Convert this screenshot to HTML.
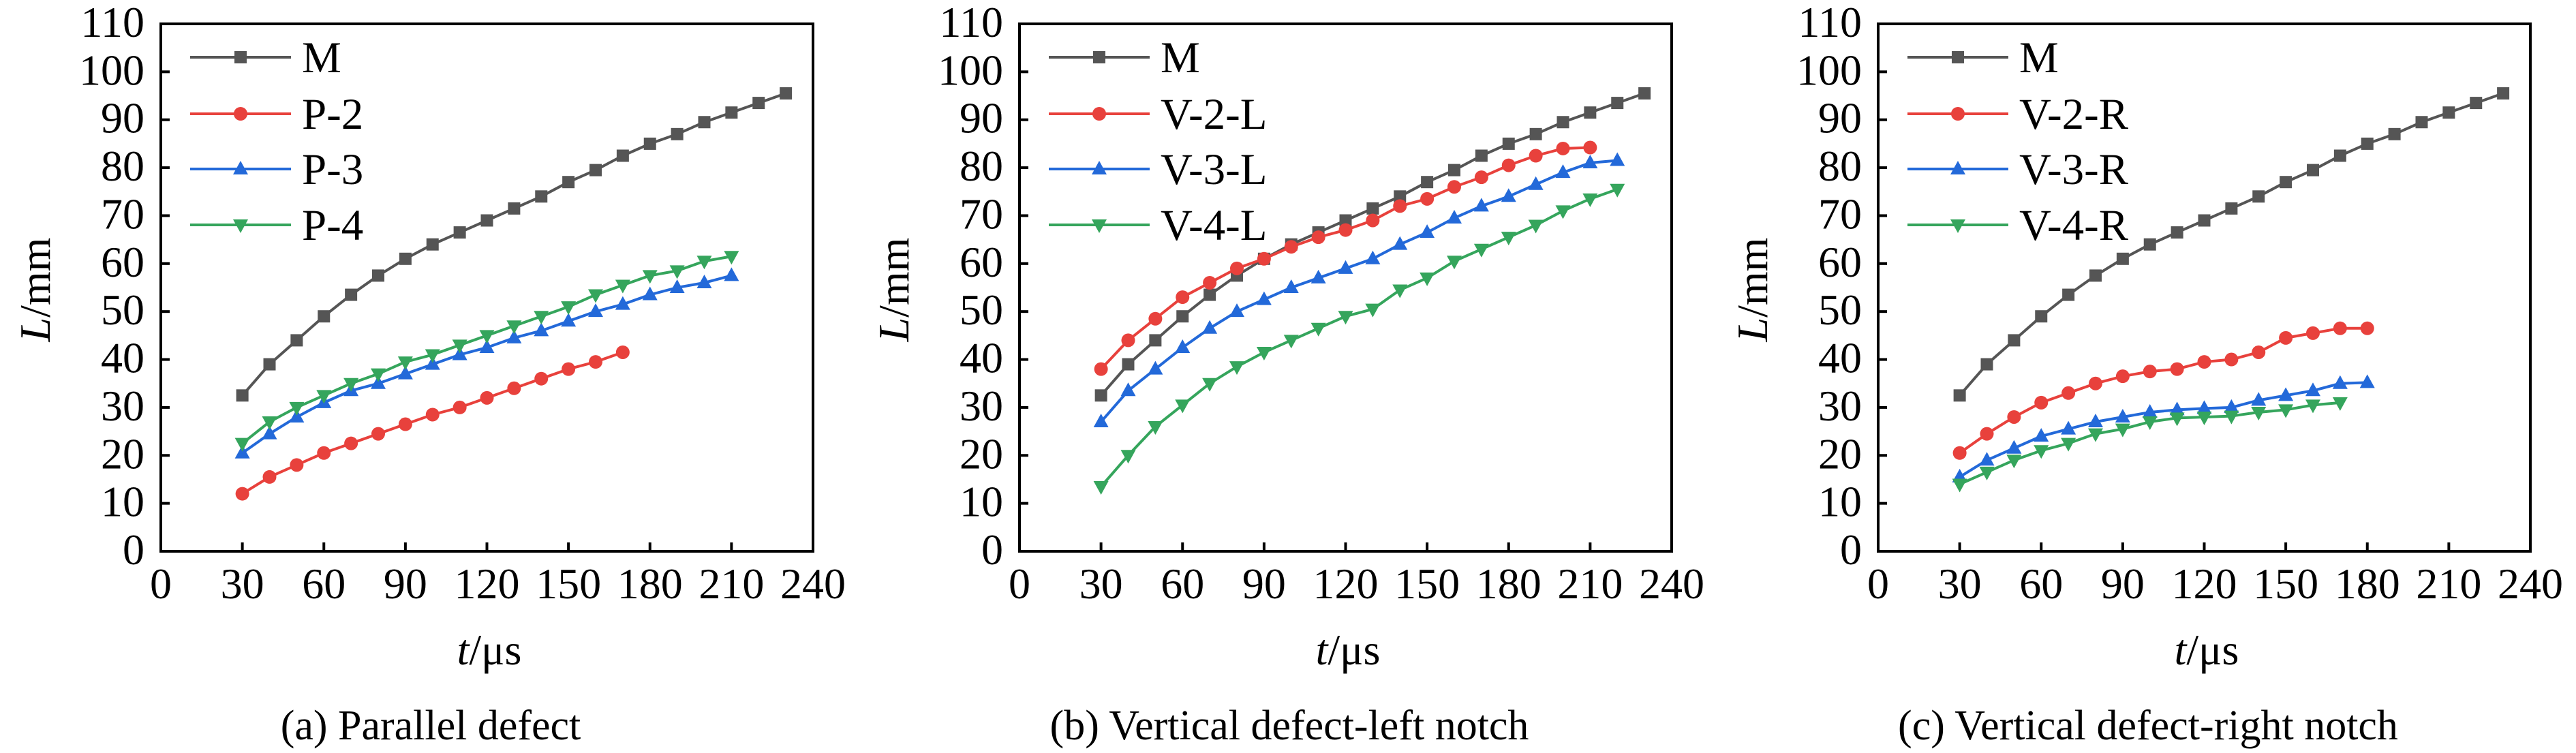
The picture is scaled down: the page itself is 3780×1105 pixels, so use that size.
<!DOCTYPE html>
<html><head><meta charset="utf-8"><style>
html,body{margin:0;padding:0;background:#fff;}
svg{display:block;font-family:"Liberation Serif",serif;}
</style></head><body>
<svg id="fig" width="3780" height="1105" viewBox="0 0 3780 1105" xmlns="http://www.w3.org/2000/svg"></svg>
<script>
// ---- data ----
const xTicks = [0,30,60,90,120,150,180,210,240];
const yTicks = [0,10,20,30,40,50,60,70,80,90,100,110];
const mValues = [32.5,39,44,49,53.5,57.5,61,64,66.5,69,71.5,74,77,79.5,82.5,85,87,89.5,91.5,93.5,95.5];
const p2Values = [12,15.5,18,20.5,22.5,24.5,26.5,28.5,30,32,34,36,38,39.5,41.5];
const p3Values = [20.5,24.5,28,31,33.5,35,37,39,41,42.5,44.5,46,48,50,51.5,53.5,55,56,57.5];
const p4Values = [22.5,27,30,32.5,35,37,39.5,41,43,45,47,49,51,53.5,55.5,57.5,58.5,60.5,61.5];
const v2lValues = [38,44,48.5,53,56,59,61,63.5,65.5,67,69,72,73.5,76,78,80.5,82.5,84,84.2];
const v3lValues = [27,33.5,38,42.5,46.5,50,52.5,55,57,59,61,64,66.5,69.5,72,74,76.5,79,81,81.5];
const v4lValues = [13.5,20,26,30.5,35,38.5,41.5,44,46.5,49,50.5,54.5,57,60.5,63,65.5,68,71,73.5,75.5];
const v2rValues = [20.5,24.5,28,31,33,35,36.5,37.5,38,39.5,40,41.5,44.5,45.5,46.5,46.5];
const v3rValues = [15.5,19,21.5,24,25.5,27,28,29,29.5,29.8,30,31.5,32.5,33.5,35,35.2];
const v4rValues = [14,16.5,19,21,22.5,24.5,25.5,27,27.8,28,28.2,29,29.5,30.5,31];
const startT = 30, stepT = 10;
const panelNames = ["a","b","c"];
const panelCaptions = ["(a) Parallel defect","(b) Vertical defect-left notch","(c) Vertical defect-right notch"];
const panelLabels = [["M","P-2","P-3","P-4"],["M","V-2-L","V-3-L","V-4-L"],["M","V-2-R","V-3-R","V-4-R"]];
const panelSeries = [[mValues,p2Values,p3Values,p4Values],[mValues,v2lValues,v3lValues,v4lValues],[mValues,v2rValues,v3rValues,v4rValues]];

const colors = ["#555555","#e8413c","#2369d9","#35a55c"];
const markers = ["square","circle","up","down"];
const NS = "http://www.w3.org/2000/svg";
const svg = document.getElementById("fig");
function mk(tag, attrs, parent){const e=document.createElementNS(NS,tag);for(const k in attrs)e.setAttribute(k,attrs[k]);(parent||svg).appendChild(e);return e;}
function marker(g,type,cx,cy,col){
  let e;
  if(type==="square"){e=mk("rect",{x:cx-9,y:cy-9,width:18,height:18,fill:col},g);}
  else if(type==="circle"){e=mk("circle",{cx:cx,cy:cy,r:10,fill:col},g);}
  else if(type==="up"){e=mk("polygon",{points:`${cx},${cy-12} ${cx+11},${cy+8} ${cx-11},${cy+8}`,fill:col},g);}
  else {e=mk("polygon",{points:`${cx},${cy+12} ${cx+11},${cy-8} ${cx-11},${cy-8}`,fill:col},g);}
  return e;
}
panelNames.forEach((pn,pi)=>{
  const off = pi*1260;
  const L=236+off, R=1193+off, T=35, B=809;
  const sx = v => L + (v-0)/(240-0)*(R-L);
  const sy = v => B - (v-0)/(110-0)*(B-T);
  const g = mk("g",{});
  
  
  // series
  panelSeries[pi].forEach((vals,si)=>{
    const sg = mk("g",{},g);
    
    
    const pts = vals.map((v,i)=>sx(startT+i*stepT)+","+sy(v)).join(" ");
    const pl = mk("polyline",{points:pts,fill:"none",stroke:colors[si],"stroke-width":4,"stroke-linejoin":"round"},sg);
    
    
    vals.forEach((v,i)=>{
      const m = marker(sg,markers[si],sx(startT+i*stepT),sy(v),colors[si]);
      
      
    });
  });
  // frame
  const fr = mk("rect",{x:L,y:T,width:R-L,height:B-T,fill:"none",stroke:"#000","stroke-width":4},g);
  
  
  // ticks
  xTicks.forEach(t=>{
    const x=sx(t);
    if(t>0&&t<240){const tl=mk("line",{x1:x,y1:B,x2:x,y2:B-13,stroke:"#000","stroke-width":4},g);
    
    }
    const tx=mk("text",{x:x,y:878,"font-size":64,"text-anchor":"middle"},g);tx.textContent=t;
    
    
  });
  yTicks.forEach(t=>{
    const y=sy(t);
    if(t>0&&t<110){const tl=mk("line",{x1:L,y1:y,x2:L+13,y2:y,stroke:"#000","stroke-width":4},g);
    
    }
    const tx=mk("text",{x:L-24,y:y+19,"font-size":64,"text-anchor":"end"},g);tx.textContent=t;
    
    
  });
  // axis titles
  const xt=mk("text",{x:718+off,y:975,"font-size":64,"text-anchor":"middle"},g);
  xt.innerHTML='<tspan font-style="italic">t</tspan>/μs';
  
  
  const yt=mk("text",{x:0,y:0,"font-size":64,"text-anchor":"middle",transform:`translate(${73+off},425) rotate(-90)`},g);
  yt.innerHTML='<tspan font-style="italic">L</tspan>/mm';
  
  
  // caption
  const cp=mk("text",{x:632+off,y:1085,"font-size":62,"text-anchor":"middle"},g);
  cp.textContent=panelCaptions[pi];
  
  
  // legend
  const lg=mk("g",{},g);
  
  
  const rows=[84,167,248,330];
  panelLabels[pi].forEach((lab,si)=>{
    const eg=mk("g",{},lg);
    
    
    mk("line",{x1:279+off,y1:rows[si],x2:427+off,y2:rows[si],stroke:colors[si],"stroke-width":4},eg);
    marker(eg,markers[si],353+off,rows[si],colors[si]);
    const t=mk("text",{x:443+off,y:rows[si]+22,"font-size":65},eg);t.textContent=lab;
  });
});
</script>
</body></html>
